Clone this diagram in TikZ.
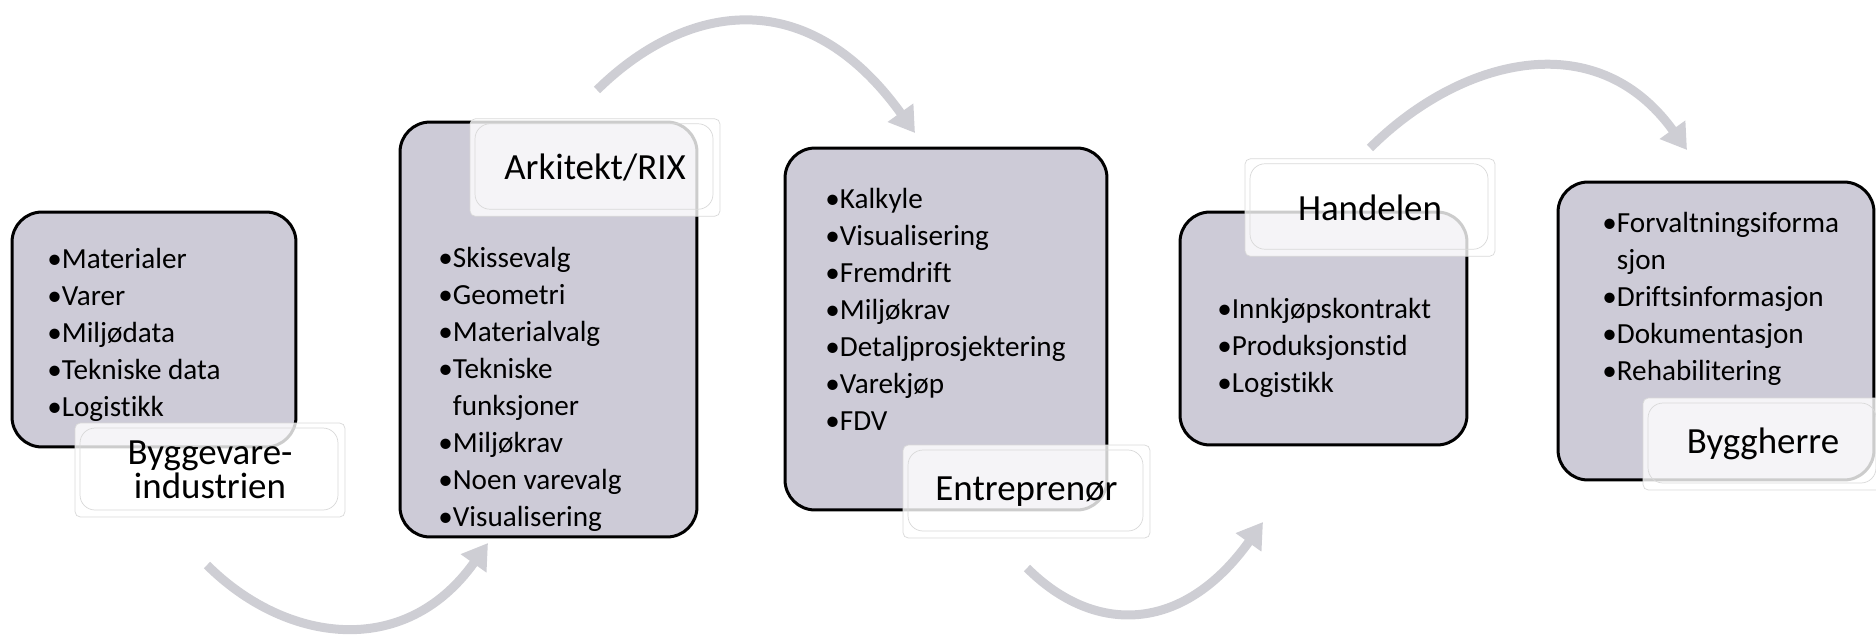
\documentclass[tikz,border=0pt]{standalone}
\usepackage{fontspec}
\setmainfont{Carlito}[Ligatures=NoCommon]
\usetikzlibrary{arrows.meta, positioning}
\definecolor{cardfill}{RGB}{205,203,215}
\definecolor{flowgray}{RGB}{206,206,212}

\begin{document}
\begin{tikzpicture}[
    x=0.02cm, y=-0.02cm,
    card/.style={draw, line width=0.06cm, fill=cardfill, rounded corners=0.6cm, inner sep=0pt},
    items/.style={anchor=base west, align=left, inner sep=0pt, font=\fontsize{16.6}{21}\selectfont},
    tag/.style={draw=black!15, fill=white, fill opacity=0.8, text opacity=1, rounded corners=3pt,
        minimum width=5cm, minimum height=1.95cm, align=center, font=\fontsize{21}{17}\selectfont,
        path picture={\draw[black!15, rounded corners=0.3cm]
            ([shift={(0.1cm,-0.1cm)}]path picture bounding box.north west) rectangle
            ([shift={(-0.14cm,0.14cm)}]path picture bounding box.south east);}},
    flow/.style={line width=0.18cm, draw=flowgray, -{Triangle[length=0.5cm, width=0.6cm]}}
]
    \useasboundingbox (0,0) rectangle (1876,640);

    % content boxes
    \node[card, minimum width=5.68cm, minimum height=4.7cm] (ind) at (154,329.5) {};
    \node[card, minimum width=5.94cm, minimum height=8.3cm] (ark) at (548.5,329.5) {};
    \node[card, minimum width=6.44cm, minimum height=7.24cm] (ent) at (946,329) {};
    \node[card, minimum width=5.74cm, minimum height=4.66cm] (han) at (1323.5,328.5) {};
    \node[card, minimum width=6.32cm, minimum height=5.96cm] (bhr) at (1716,331) {};

    % lists (placed by the baseline of their last line)
    \node[items] (indlist) at (47,416) {•Materialer\\•Varer\\•Miljødata\\•Tekniske data\\•Logistikk};
    \node[items] (arklist) at (438,526) {•Skissevalg\\•Geometri\\•Materialvalg\\•Tekniske\\\phantom{•}funksjoner\\•Miljøkrav\\•Noen varevalg\\•Visualisering};
    \node[items] (entlist) at (825,430) {•Kalkyle\\•Visualisering\\•Fremdrift\\•Miljøkrav\\•Detaljprosjektering\\•Varekjøp\\•FDV};
    \node[items] (hanlist) at (1217,392) {•Innkjøpskontrakt\\•Produksjonstid\\•Logistikk};
    \node[items] (bhrlist) at (1602,380) {•Forvaltningsiforma\\\phantom{•}sjon\\•Driftsinformasjon\\•Dokumentasjon\\•Rehabilitering};

    % labels
    \node[tag, minimum width=5.4cm, minimum height=1.88cm] (indtag) at (210,470) {Byggevare-\\industrien};
    \node[tag] (arktag) at (595,167.5) {Arkitekt/RIX};
    \node[tag, minimum width=4.94cm, minimum height=1.86cm] (enttag) at (1026.5,491.5) {Entreprenør};
    \node[tag] (hantag) at (1370,207.5) {Handelen};
    \node[tag, minimum width=4.8cm, minimum height=1.84cm] (bhrtag) at (1763,444) {Byggherre};

    % flow arrows
    \coordinate (f1s) at (207,565);
    \coordinate (f1e) at (488,543);
    \coordinate (f2s) at (597,90);
    \coordinate (f2e) at (915,133);
    \coordinate (f3s) at (1027,568);
    \coordinate (f3e) at (1263,522);
    \coordinate (f4s) at (1370,148);
    \coordinate (f4e) at (1687,150);
    \draw[flow] (f1s) .. controls (284,642) and (404,661) .. (f1e);
    \draw[flow] (f2s) .. controls (680,8) and (803,-23) .. (f2e);
    \draw[flow] (f3s) .. controls (1094,635) and (1183,634) .. (f3e);
    \draw[flow] (f4s) .. controls (1458,60) and (1595,22) .. (f4e);
\end{tikzpicture}
\end{document}
